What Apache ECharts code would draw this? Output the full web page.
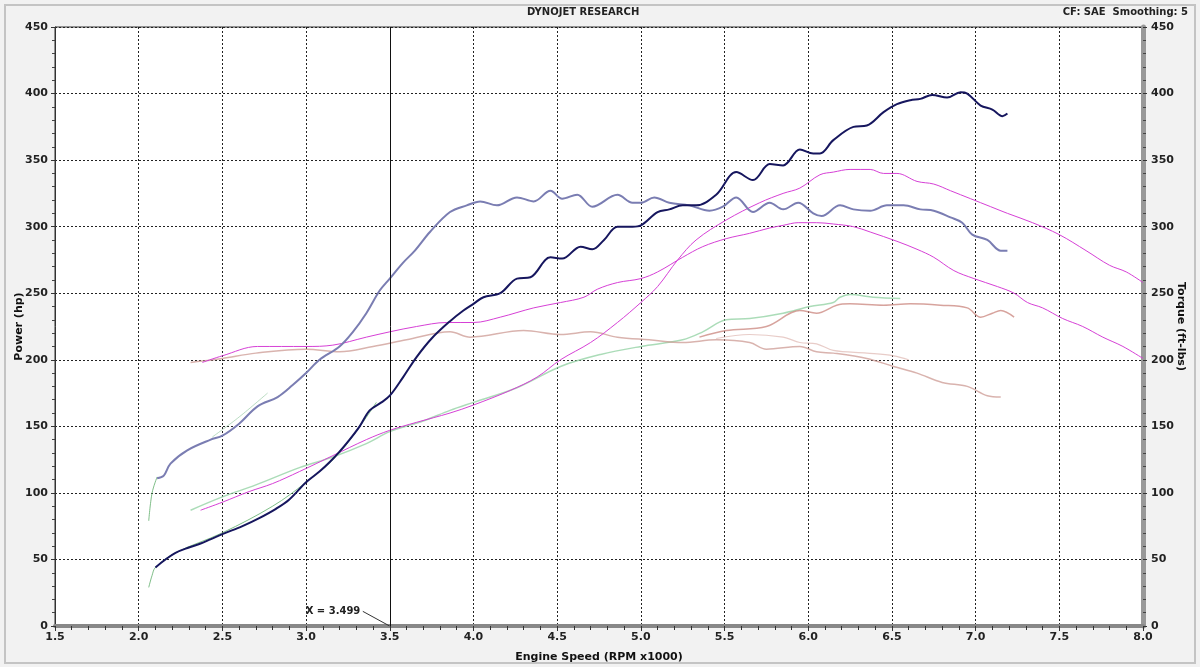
<!DOCTYPE html>
<html><head><meta charset="utf-8">
<script src="https://cdn.jsdelivr.net/npm/echarts@6/dist/echarts.min.js"></script>
<style>html,body{margin:0;padding:0;background:#f2f2f2}#c{width:1200px;height:667px}</style>
</head><body><div id="c"></div>
<script>
// ---- data (RPM x1000, value) ----
const xTicks = [1.5,2.0,2.5,3.0,3.5,4.0,4.5,5.0,5.5,6.0,6.5,7.0,7.5,8.0];
const yTicks = [0,50,100,150,200,250,300,350,400,450];
const cursorX = 3.499;

const navyPower = [[2.10,44],[2.16,50],[2.22,55],[2.30,59],[2.37,62],[2.50,69],[2.62,75],[2.72,81],[2.82,88],[2.90,95],[3.00,108],[3.08,116],[3.14,123],[3.20,131],[3.26,140],[3.32,150],[3.38,162],[3.45,168],[3.50,173],[3.58,187],[3.66,202],[3.75,216],[3.86,229],[3.94,237],[4.00,242],[4.06,247],[4.16,250],[4.26,261],[4.34,262],[4.46,277],[4.53,276],[4.64,285],[4.71,283],[4.78,290],[4.86,300],[4.95,300],[5.00,301],[5.10,311],[5.17,313],[5.25,316],[5.33,316],[5.45,324],[5.57,341],[5.67,335],[5.77,347],[5.85,346],[5.95,358],[6.03,355],[6.07,355],[6.15,365],[6.27,375],[6.35,376],[6.45,386],[6.53,392],[6.61,395],[6.67,396],[6.74,399],[6.83,397],[6.91,401],[6.95,400],[7.03,391],[7.10,388],[7.16,383],[7.19,385]];

const slateTorque = [[2.11,111],[2.15,113],[2.19,122],[2.29,132],[2.43,140],[2.50,143],[2.60,152],[2.71,165],[2.83,172],[2.92,181],[3.00,190],[3.08,200],[3.20,210],[3.28,221],[3.36,235],[3.44,252],[3.50,261],[3.58,273],[3.65,282],[3.74,296],[3.86,311],[3.96,316],[4.04,319],[4.14,316],[4.26,322],[4.36,319],[4.46,327],[4.53,321],[4.62,324],[4.71,315],[4.86,324],[4.95,318],[5.00,318],[5.08,322],[5.17,318],[5.29,316],[5.41,312],[5.49,315],[5.57,322],[5.67,311],[5.77,318],[5.85,313],[5.94,318],[6.03,310],[6.08,308],[6.19,316],[6.27,313],[6.37,312],[6.47,316],[6.57,316],[6.67,313],[6.75,312],[6.85,307],[6.92,303],[6.98,294],[7.07,290],[7.15,282],[7.19,282]];

const magentaPower = [[2.37,87],[2.50,93],[2.66,101],[2.80,107],[2.96,116],[3.16,128],[3.36,140],[3.50,147],[3.66,153],[3.86,160],[4.00,166],[4.22,177],[4.38,187],[4.52,200],[4.70,213],[4.86,228],[5.00,243],[5.10,255],[5.22,275],[5.33,290],[5.51,305],[5.71,318],[5.85,325],[5.95,329],[6.07,339],[6.15,341],[6.25,343],[6.37,343],[6.45,340],[6.53,340],[6.65,334],[6.75,332],[6.85,327],[6.97,321],[7.09,315],[7.19,310],[7.34,303],[7.50,294],[7.66,282],[7.80,271],[7.90,266],[8.00,258]];

const magentaTorque = [[2.38,198],[2.50,203],[2.71,210],[3.00,210],[3.16,211],[3.36,217],[3.50,221],[3.66,225],[3.84,228],[4.00,228],[4.16,232],[4.36,239],[4.52,243],[4.66,247],[4.74,253],[4.86,258],[5.00,261],[5.10,266],[5.25,277],[5.37,285],[5.51,291],[5.65,295],[5.77,299],[5.85,301],[5.94,303],[6.05,303],[6.15,302],[6.27,300],[6.37,296],[6.53,289],[6.65,283],[6.75,277],[6.87,267],[6.99,261],[7.13,255],[7.23,250],[7.31,243],[7.40,239],[7.52,231],[7.64,225],[7.76,217],[7.88,210],[8.00,201]];

const greenPower = [[2.31,87],[2.50,97],[2.70,106],[2.96,119],[3.16,127],[3.36,137],[3.50,146],[3.70,154],[3.86,162],[4.00,168],[4.26,179],[4.52,195],[4.76,204],[5.00,210],[5.25,215],[5.37,221],[5.51,230],[5.65,231],[5.85,235],[6.01,240],[6.15,243],[6.19,247],[6.25,249],[6.39,247],[6.55,246]];
const greenEarly = [[2.06,29],[2.08,38],[2.10,44],[2.22,55],[2.50,70],[2.80,90],[3.00,108],[3.20,130],[3.42,168]];
const greenEarlyTorque = [[2.06,79],[2.08,100],[2.11,112]];
const greenTorqueBit = [[2.44,142],[2.60,157],[2.77,175]];

const redPower = [[5.35,217],[5.51,222],[5.75,225],[5.95,237],[6.05,235],[6.17,241],[6.25,242],[6.45,241],[6.61,242],[6.79,241],[6.95,239],[7.03,232],[7.10,235],[7.15,237],[7.23,232]];
const redTorque = [[2.31,198],[2.38,199],[2.50,201],[2.70,205],[3.00,208],[3.20,206],[3.40,210],[3.60,215],[3.86,221],[3.98,217],[4.30,222],[4.52,219],[4.70,221],[4.86,217],[5.05,215],[5.25,213],[5.45,215],[5.65,213],[5.75,208],[5.95,210],[6.05,206],[6.15,205],[6.35,201],[6.51,195],[6.65,190],[6.80,183],[6.95,180],[7.07,173],[7.15,172]];
const redTorque2 = [[5.45,216],[5.65,219],[5.85,217],[5.95,213],[6.05,212],[6.15,207],[6.35,205],[6.51,203],[6.60,200]];

// ---- chart ----
const FONT = 'DejaVu Sans';
const chart = echarts.init(document.getElementById('c'));
const lbl = {fontFamily: FONT, fontWeight: 'bold', fontSize: 10, color: '#222'};
function ln(name, data, color, width, opacity, yIdx, z) {
  return {name, type: 'line', data, yAxisIndex: yIdx || 0, showSymbol: false, smooth: 0.35,
    lineStyle: {color, width, opacity}, z: z || 2, silent: true};
}
const series = [
  ln('greenEarly', greenEarly, '#5fae6a', 1, 0.8, 0, 2),
  ln('greenEarlyTorque', greenEarlyTorque, '#5fae6a', 1, 0.8, 1, 2),
  ln('greenTorqueBit', greenTorqueBit, '#8cc49a', 1, 0.6, 1, 2),
  ln('greenPower', greenPower, '#8fd0a0', 1.5, 0.75, 0, 2),
  ln('redPower', redPower, '#c9847c', 1.5, 0.75, 0, 2),
  ln('redTorque', redTorque, '#c9938c', 1.5, 0.7, 1, 2),
  ln('redTorque2', redTorque2, '#d8aaa4', 1.2, 0.6, 1, 2),
  ln('magentaPower', magentaPower, '#d640d6', 1, 1, 0, 3),
  ln('magentaTorque', magentaTorque, '#d640d6', 1, 1, 1, 3),
  ln('slateTorque', slateTorque, '#7a7db2', 2, 1, 1, 4),
  ln('navyPower', navyPower, '#16165e', 2, 1, 0, 5),
  {type: 'line', silent: true, showSymbol: false, z: 6,
    data: [[cursorX - 0.16, 11], [cursorX, 0]],
    lineStyle: {color: '#333', width: 1},
    markLine: {silent: true, symbol: 'none', label: {show: false},
      lineStyle: {color: '#111', width: 1, type: 'solid'},
      data: [{xAxis: cursorX}]},
    markPoint: {symbol: 'circle', symbolSize: 1, itemStyle: {color: 'transparent'},
      label: {show: true, formatter: 'X = ' + cursorX.toFixed(3), position: 'left', distance: 2, ...lbl, fontSize: 10},
      data: [{coord: [cursorX - 0.16, 11]}]}}
];

const yAx = (pos, name) => ({
  type: 'value', position: pos, min: 0, max: 450, interval: 50,
  name, nameLocation: 'middle', nameGap: pos === 'left' ? 30 : 32, nameRotate: pos === 'left' ? 90 : -90,
  nameMoveOverlap: false,
  nameTextStyle: {fontFamily: FONT, fontWeight: 'bold', fontSize: 11, color: '#111'},
  axisLine: {show: true, lineStyle: {color: pos === 'left' ? '#333' : '#999', width: pos === 'left' ? 1 : 5}},
  axisTick: {show: true, length: 4, lineStyle: {color: '#333'}},
  minorTick: {show: true, splitNumber: 5, length: 3, lineStyle: {color: '#444'}},
  axisLabel: {...lbl, fontSize: 11, margin: pos === 'left' ? 7 : 8},
  splitLine: {show: pos === 'left', lineStyle: {type: [2, 2], color: '#222', width: 1}}
});

chart.setOption({
  backgroundColor: '#f2f2f2',
  animation: false,
  graphic: [
    {type: 'rect', shape: {x: 5, y: 5, width: 1190, height: 658}, style: {fill: 'none', stroke: '#c4c4c4', lineWidth: 2}, z: -10},
    {type: 'text', left: 592 - 65, top: 7, style: {text: 'DYNOJET RESEARCH', fontFamily: FONT, fontWeight: 'bold', fontSize: 10, fill: '#222'}},
    {type: 'text', right: 12, top: 7, style: {text: 'CF: SAE  Smoothing: 5', fontFamily: FONT, fontWeight: 'bold', fontSize: 10, fill: '#222'}}
  ],
  grid: {left: 55, right: 57, top: 27, bottom: 41, outerBoundsMode: 'none', containLabel: false,
    show: true, backgroundColor: '#ffffff', borderColor: '#333', borderWidth: 1},
  xAxis: {
    type: 'value', min: 1.5, max: 8.0, interval: 0.5,
    name: 'Engine Speed (RPM x1000)', nameLocation: 'middle', nameGap: 26, nameMoveOverlap: false,
    nameTextStyle: {fontFamily: FONT, fontWeight: 'bold', fontSize: 11, color: '#111'},
    axisLine: {show: true, lineStyle: {color: '#888', width: 4}},
    axisTick: {show: true, length: 5, lineStyle: {color: '#333'}},
    minorTick: {show: true, splitNumber: 5, length: 4, lineStyle: {color: '#333'}},
    axisLabel: {...lbl, fontSize: 11, margin: 6, formatter: v => v.toFixed(1)},
    splitLine: {show: true, lineStyle: {type: [2, 2], color: '#222', width: 1}}
  },
  yAxis: [yAx('left', 'Power (hp)'), yAx('right', 'Torque (ft-lbs)')],
  series
});
</script></body></html>
